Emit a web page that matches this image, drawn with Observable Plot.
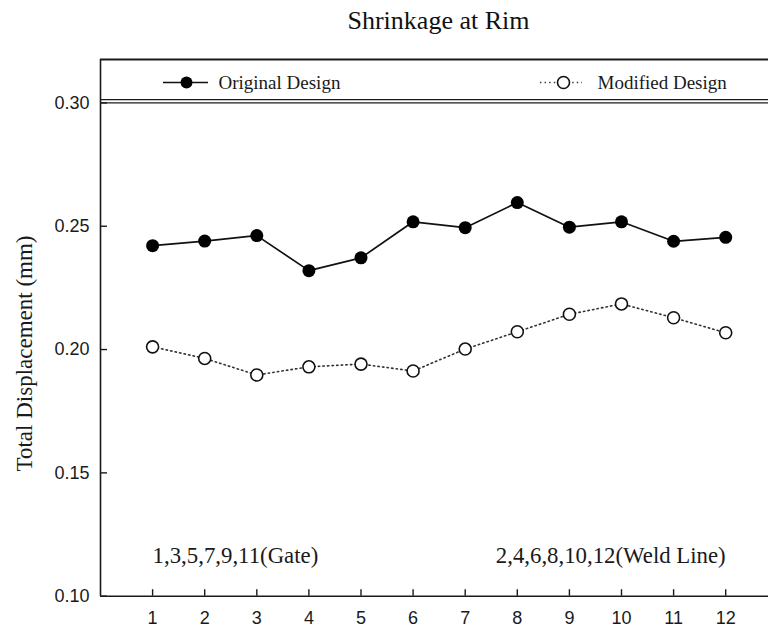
<!DOCTYPE html>
<html>
<head>
<meta charset="utf-8">
<script src="https://cdn.jsdelivr.net/npm/d3@7"></script>
<script src="https://cdn.jsdelivr.net/npm/@observablehq/plot@0.6"></script>
<style>
  body { margin: 0; background: #fff; }
  #title {
    height: 46px; line-height: 42px; margin-left: 100px; width: 677px;
    text-align: center; font-size: 26px; color: #111;
    font-family: "Liberation Serif", "Times New Roman", serif;
  }
  #chart svg { display: block; }
</style>
</head>
<body>
<div id="title">Shrinkage at Rim</div>
<div id="chart"></div>
<script>
// ---- data ----
const positions = [1, 2, 3, 4, 5, 6, 7, 8, 9, 10, 11, 12];
const original = [0.2421, 0.2440, 0.2462, 0.2320, 0.2372, 0.2518, 0.2494, 0.2596, 0.2496, 0.2518, 0.2439, 0.2455];
const modified = [0.2011, 0.1964, 0.1897, 0.1930, 0.1941, 0.1913, 0.2002, 0.2072, 0.2143, 0.2185, 0.2129, 0.2068];
const yTicks = [0.10, 0.15, 0.20, 0.25, 0.30];
const seriesNames = ["Original Design", "Modified Design"];
const annotations = ["1,3,5,7,9,11(Gate)", "2,4,6,8,10,12(Weld Line)"];
const yLabel = "Total Displacement (mm)";

// ---- layout ----
const W = 768, H = 583;
const xDomain = [0, 13], xRange = [100, 777.3];
const yTop = 0.3176;
const yDomain = [0.10, yTop], yRange = [549.7, 13];
const xs = d3.scaleLinear(xDomain, xRange);
const ys = d3.scaleLinear(yDomain, yRange);
const serif = "Liberation Serif, Times New Roman, serif";
const sans = "Liberation Sans, Arial, sans-serif";
const ink = "#1a1a1a";

const origData = positions.map((p, i) => ({pos: p, value: original[i]}));
const modData = positions.map((p, i) => ({pos: p, value: modified[i]}));

const legY = ys.invert(36);
const tickLenY = ys.invert(549.7 - 6.5) - 0.10;
const tickLenX = xs.invert(100 + 7) - 0;

const chart = Plot.plot({
  width: W, height: H,
  marginLeft: 100, marginRight: 0, marginTop: 13, marginBottom: 33,
  x: {domain: xDomain, range: xRange},
  y: {domain: yDomain, range: yRange},
  style: {background: "#fff"},
  marks: [
    // frame
    Plot.ruleX([0], {y1: 0.10, y2: yTop, stroke: ink, strokeWidth: 1.6}),
    Plot.ruleY([0.10], {stroke: ink, strokeWidth: 1.6}),
    Plot.ruleY([yTop], {stroke: ink, strokeWidth: 1.8}),
    Plot.ruleY([0.30], {stroke: ink, strokeWidth: 1.4}),
    Plot.ruleY([0.30 + 3.3 / 2466], {stroke: ink, strokeWidth: 1.2}),
    // inward ticks
    Plot.ruleX(positions, {x: d => d, y1: 0.10, y2: 0.10 + tickLenY, stroke: ink, strokeWidth: 1.4}),
    Plot.ruleY(yTicks, {y: d => d, x1: 0, x2: tickLenX, stroke: ink, strokeWidth: 1.4}),
    // axes
    Plot.axisX({ticks: positions, tickSize: 0, tickPadding: 15, fontSize: 18, fontFamily: sans, label: null, fill: ink}),
    Plot.axisY({ticks: yTicks, tickSize: 0, tickPadding: 11, fontSize: 18, fontFamily: sans, label: null, tickFormat: d3.format(".2f"), fill: ink}),
    // y label
    Plot.text([yLabel], {x: xs.invert(24), y: ys.invert(307), text: d => d, rotate: -90, fontSize: 23, fontFamily: serif, fill: ink}),
    // series
    Plot.line(modData, {x: "pos", y: "value", stroke: "#333", strokeWidth: 1.6, strokeDasharray: "1.4,3.2"}),
    Plot.line(origData, {x: "pos", y: "value", stroke: "#111", strokeWidth: 1.7}),
    Plot.dot(origData, {x: "pos", y: "value", r: 6.5, fill: "#000"}),
    Plot.dot(modData, {x: "pos", y: "value", r: 6, fill: "#fff", stroke: "#111", strokeWidth: 1.6}),
    // legend
    Plot.ruleY([legY], {x1: xs.invert(163), x2: xs.invert(208), stroke: "#111", strokeWidth: 1.7}),
    Plot.dot([0], {x: xs.invert(186), y: legY, r: 6, fill: "#000"}),
    Plot.text([seriesNames[0]], {x: xs.invert(218), y: legY, text: d => d, textAnchor: "start", fontSize: 19, fontFamily: serif, fill: ink}),
    Plot.ruleY([legY], {x1: xs.invert(540), x2: xs.invert(582), stroke: "#333", strokeWidth: 1.6, strokeDasharray: "1.4,3.2"}),
    Plot.dot([0], {x: xs.invert(563), y: legY, r: 6, fill: "#fff", stroke: "#111", strokeWidth: 1.6}),
    Plot.text([seriesNames[1]], {x: xs.invert(597), y: legY, text: d => d, textAnchor: "start", fontSize: 19, fontFamily: serif, fill: ink}),
    // annotations
    Plot.text([annotations[0]], {x: positions[0], y: 0.1165, text: d => d, textAnchor: "start", fontSize: 22.8, fontFamily: serif, fill: ink}),
    Plot.text([annotations[1]], {x: positions[positions.length - 1], y: 0.1165, text: d => d, textAnchor: "end", fontSize: 22.8, fontFamily: serif, fill: ink})
  ]
});
document.getElementById("chart").appendChild(chart);
</script>
</body>
</html>
